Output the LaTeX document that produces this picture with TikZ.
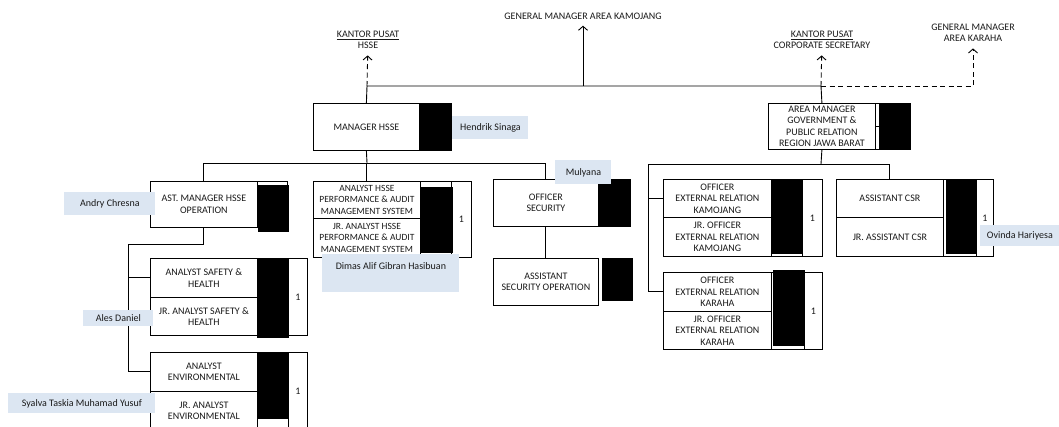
\documentclass[tikz,border=0pt]{standalone}
\usepackage{fontspec}
\setmainfont{Carlito}
\usepackage{xcolor}
\usetikzlibrary{arrows.meta}
\definecolor{tagblue}{RGB}{220,230,242}
\newcommand{\orgfont}{\fontsize{10}{11.5}\selectfont}
\tikzset{
  sz/.style 2 args={
    minimum width=#1pt,minimum height=#2pt
  },
  org cell/.style={
    draw,anchor=north west,inner sep=1pt,align=center,font=\orgfont
  },
  redact/.style={
    draw,fill=black,anchor=north west,inner sep=0pt
  },
  name tag/.style={
    fill=tagblue,anchor=north west,inner sep=0pt,font=\orgfont
  },
  org head/.style={
    align=center,inner sep=2pt,font=\orgfont
  },
  org line/.style={
    line width=0.9pt
  },
  head arrow/.style={
    org line,shorten >=4pt,
    -{Straight Barb[length=4pt,width=9pt]}
  },
  dash arrow/.style={
    head arrow,dash pattern=on 5pt off 3.5pt
  }
}

\begin{document}
\begin{tikzpicture}[x=1pt,y=-1pt,line width=0.8pt,text=black!90]
  \useasboundingbox (0,0) rectangle (1059,426);

  % upper level
  \node[org head] (gmKmj) at (583,16) {GENERAL MANAGER AREA KAMOJANG};
  \node[org head] (kpHsse) at (368,40) {\underline{KANTOR PUSAT}\\HSSE};
  \node[org head] (kpCorp) at (822,40)
    {\underline{KANTOR PUSAT}\\CORPORATE SECRETARY};
  \node[org head] (gmKrh) at (973,33) {GENERAL MANAGER\\AREA KARAHA};

  % managers
  \node[org cell,sz={106}{47}] (mgrHsse) at (313,103) {MANAGER HSSE};
  \node[redact,sz={32}{47}] (mgrHsseBlk) at (419,103) {};

  \node[org cell,sz={107}{46}] (amGov) at (768,103)
    {AREA MANAGER\\GOVERNMENT \&\\PUBLIC RELATION\\REGION JAWA BARAT};
  \node[org cell,sz={30}{23}] (amGovColA) at (875,103) {};
  \node[org cell,sz={30}{23}] (amGovColB) at (875,126) {};
  \node[redact,sz={31}{46}] (amGovBlk) at (879,103) {};

  % hsse units
  \node[org cell,sz={107}{46}] (astOps) at (150,181)
    {AST. MANAGER HSSE\\OPERATION};
  \node[org cell,sz={30}{46}] (astOpsCol) at (257,181) {};
  \node[redact,sz={30}{46}] (astOpsBlk) at (258,185) {};

  \node[org cell,sz={107}{37},font=\fontsize{9.5}{11.5}\selectfont]
    (anPerf) at (313,181)
    {ANALYST HSSE\\PERFORMANCE \& AUDIT\\MANAGEMENT SYSTEM};
  \node[org cell,sz={107}{39},font=\fontsize{9.5}{11.5}\selectfont]
    (jrPerf) at (313,218)
    {JR. ANALYST HSSE\\PERFORMANCE \& AUDIT\\MANAGEMENT SYSTEM};
  \node[org cell,sz={31}{76}] (perfCol) at (420,181) {};
  \node[org cell,sz={20}{76}] (perfOne) at (451,181) {1};
  \node[redact,sz={31}{65}] (perfBlk) at (421,187) {};

  \node[org cell,sz={105}{47}] (offSec) at (493,179) {OFFICER\\SECURITY};
  \node[redact,sz={32}{47}] (offSecBlk) at (598,179) {};
  \node[org cell,sz={105}{47}] (asstSec) at (493,258)
    {ASSISTANT\\SECURITY OPERATION};
  \node[redact,sz={30}{42}] (asstSecBlk) at (602,258) {};

  \node[org cell,sz={107}{39}] (anSafe) at (150,258)
    {ANALYST SAFETY \&\\HEALTH};
  \node[org cell,sz={107}{38}] (jrSafe) at (150,297)
    {JR. ANALYST SAFETY \&\\HEALTH};
  \node[org cell,sz={31}{77}] (safeCol) at (257,258) {};
  \node[org cell,sz={19}{77}] (safeOne) at (288,258) {1};
  \node[redact,sz={31}{79}] (safeBlk) at (257,258) {};

  \node[org cell,sz={107}{39}] (anEnv) at (150,352)
    {ANALYST\\ENVIRONMENTAL};
  \node[org cell,sz={107}{39}] (jrEnv) at (150,391)
    {JR. ANALYST\\ENVIRONMENTAL};
  \node[org cell,sz={31}{78}] (envCol) at (257,352) {};
  \node[org cell,sz={19}{78}] (envOne) at (288,352) {1};
  \node[redact,sz={31}{66}] (envBlk) at (257,352) {};

  % government & public relation units
  \node[org cell,sz={108}{38}] (offKmj) at (663,179)
    {OFFICER\\EXTERNAL RELATION\\KAMOJANG};
  \node[org cell,sz={108}{39}] (jrKmj) at (663,217)
    {JR. OFFICER\\EXTERNAL RELATION\\KAMOJANG};
  \node[org cell,sz={31}{77}] (kmjCol) at (771,179) {};
  \node[org cell,sz={20}{77}] (kmjOne) at (802,179) {1};
  \node[redact,sz={31}{74}] (kmjBlk) at (771,179) {};

  \node[org cell,sz={108}{39}] (offKrh) at (663,272)
    {OFFICER\\EXTERNAL RELATION\\KARAHA};
  \node[org cell,sz={108}{38}] (jrKrh) at (663,311)
    {JR. OFFICER\\EXTERNAL RELATION\\KARAHA};
  \node[org cell,sz={33}{77}] (krhCol) at (771,272) {};
  \node[org cell,sz={18}{77}] (krhOne) at (804,272) {1};
  \node[redact,sz={31}{75}] (krhBlk) at (773,270) {};

  \node[org cell,sz={107}{38}] (asCsr) at (836,179) {ASSISTANT CSR};
  \node[org cell,sz={107}{39}] (jrCsr) at (836,217) {JR. ASSISTANT CSR};
  \node[org cell,sz={33}{77}] (csrCol) at (943,179) {};
  \node[org cell,sz={17}{77}] (csrOne) at (976,179) {1};
  \node[redact,sz={30}{74}] (csrBlk) at (946,179) {};

  % connectors
  \coordinate (jHsse) at (367,86);
  \coordinate (jTop) at (583,86);
  \coordinate (jGov) at (821,86);
  \coordinate (jKrh) at (973,86);
  \coordinate (bHsse) at (367,163);
  \coordinate (bOps) at (128,244);
  \coordinate (bGov) at (821,164);
  \coordinate (bErl) at (648,164);

  \draw[org line] (mgrHsse.north) -- (jHsse) -- (jGov) -- (amGov.north);
  \draw[head arrow] (jTop) -- (gmKmj);
  \draw[dash arrow] (jHsse) -- (kpHsse);
  \draw[dash arrow] (jGov) -- (kpCorp);
  \draw[dash arrow] (jGov) -- (jKrh) -- (gmKrh);

  \draw[org line] (mgrHsse.south) -- (bHsse);
  \draw[org line] (astOps.north) -- (astOps.north |- bHsse)
    -- (offSec.north |- bHsse) -- (offSec.north);
  \draw[org line] (anPerf.north) -- (anPerf.north |- bHsse);
  \draw[org line] (offSec.south) -- (asstSec.north);
  \draw[org line] (astOps.south) |- (bOps) |- (anEnv.west);
  \draw[org line] (anSafe.west) -- (anSafe.west -| bOps);

  \draw[org line] (amGov.south) -- (bGov);
  \draw[org line] (asCsr.north) |- (bErl) |- (offKrh.west);
  \draw[org line] (offKmj.west) -- (offKmj.west -| bErl);

  % names
  \node[name tag,sz={76}{23}] (tagHendrik) at (452,116) {Hendrik Sinaga};
  \node[name tag,sz={91}{23}] (tagAndry) at (64,192) {Andry Chresna};
  \node[name tag,sz={137}{38},text depth=14pt] (tagDimas) at (322,254)
    {Dimas Alif Gibran Hasibuan};
  \node[name tag,sz={56}{24}] (tagMulyana) at (555,160) {Mulyana};
  \node[name tag,sz={70}{16}] (tagAles) at (83,310) {Ales Daniel};
  \node[name tag,sz={147}{20}] (tagSyalva) at (8,393)
    {Syalva Taskia Muhamad Yusuf};
  \node[name tag,sz={79}{21}] (tagOvinda) at (980,225) {Ovinda Hariyesa};
\end{tikzpicture}
\end{document}
